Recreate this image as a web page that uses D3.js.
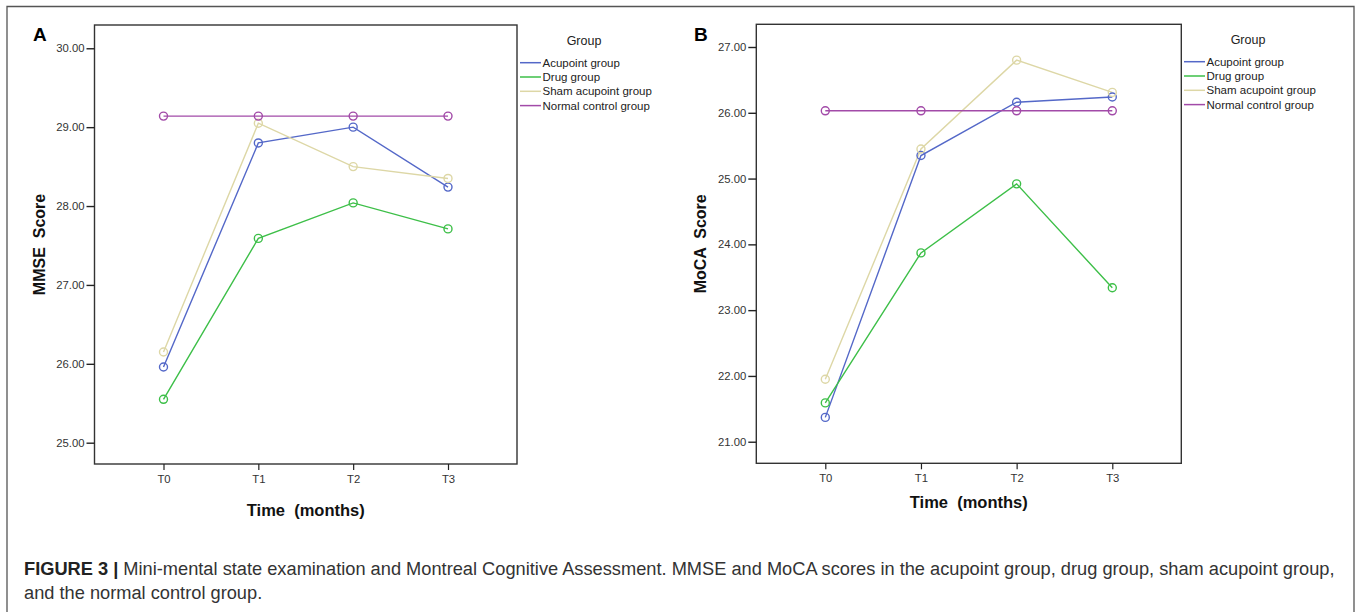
<!DOCTYPE html>
<html><head><meta charset="utf-8">
<script src="https://cdn.jsdelivr.net/npm/d3@7"></script>
<style>body{margin:0;background:#fff;} svg{display:block;}</style>
</head><body>
<svg id="c" width="1357" height="612"></svg>
<script>
const timepoints = ["T0","T1","T2","T3"];
const groups = ["Acupoint group","Drug group","Sham acupoint group","Normal control group"];
const groupColors = ["#5468c8","#3dbf48","#ddd7a6","#a24aa8"];
// Panel A: MMSE
const mmseAcupoint = [25.96, 28.80, 29.00, 28.24];
const mmseDrug     = [25.55, 27.59, 28.04, 27.71];
const mmseSham     = [26.15, 29.05, 28.50, 28.35];
const mmseNormal   = [29.14, 29.14, 29.14, 29.14];
const mmseTicks = [25, 26, 27, 28, 29, 30];
// Panel B: MoCA
const mocaAcupoint = [21.37, 25.35, 26.16, 26.24];
const mocaDrug     = [21.59, 23.87, 24.92, 23.34];
const mocaSham     = [21.95, 25.45, 26.80, 26.31];
const mocaNormal   = [26.03, 26.03, 26.03, 26.03];
const mocaTicks = [21, 22, 23, 24, 25, 26, 27];

const captionBold = "FIGURE 3 |";
const captionLine1 = " Mini-mental state examination and Montreal Cognitive Assessment. MMSE and MoCA scores in the acupoint group, drug group, sham acupoint group,";
const captionLine2 = "and the normal control group.";

const svg = d3.select("#c");
const FONT = "'Liberation Sans', Arial, sans-serif";

// outer frame
svg.append("path").attr("d","M7,640 L7,6.5 L1354,6.5 L1354,640")
  .attr("fill","none").attr("stroke","#555").attr("stroke-width",1.3);

function panel(cfg){
  const g = svg.append("g");
  const x = d3.scalePoint().domain(timepoints).range([cfg.x0+69, cfg.x1-69]);
  const y = d3.scaleLinear().domain(cfg.ydom).range([cfg.y1, cfg.y0]);
  // box
  g.append("rect").attr("x",cfg.x0).attr("y",cfg.y0).attr("width",cfg.x1-cfg.x0).attr("height",cfg.y1-cfg.y0)
    .attr("fill","none").attr("stroke","#333").attr("stroke-width",1.4);
  // y axis
  const ya = g.append("g").attr("transform",`translate(${cfg.x0},0)`)
    .call(d3.axisLeft(y).tickValues(cfg.ticks).tickFormat(d3.format(".2f")).tickSize(8).tickPadding(2));
  ya.select(".domain").remove();
  ya.selectAll("line").attr("stroke","#222").attr("stroke-width",1.4);
  ya.selectAll("text").attr("font-family",FONT).attr("font-size",11.3).attr("fill","#333");
  // x axis
  const xa = g.append("g").attr("transform",`translate(0,${cfg.y1})`)
    .call(d3.axisBottom(x).tickSize(6).tickPadding(5));
  xa.select(".domain").remove();
  xa.selectAll("line").attr("stroke","#222").attr("stroke-width",1.2);
  xa.selectAll("text").attr("font-family",FONT).attr("font-size",11.3).attr("fill","#333");
  // titles
  g.append("text").attr("x",(cfg.x0+cfg.x1)/2).attr("y",cfg.xtitleY).attr("text-anchor","middle")
    .attr("font-family",FONT).attr("font-weight","bold").attr("font-size",16.5).attr("fill","#111")
    .attr("xml:space","preserve").style("white-space","pre").text("Time  (months)");
  g.append("text").attr("transform",`translate(${cfg.ytitleX},${(cfg.y0+cfg.y1)/2}) rotate(-90)`)
    .attr("text-anchor","middle").attr("font-family",FONT).attr("font-weight","bold").attr("font-size",16)
    .attr("fill","#111").style("white-space","pre").text(cfg.ytitle);
  // panel letter
  g.append("text").attr("x",cfg.letterX).attr("y",40.5).attr("font-family",FONT).attr("font-weight","bold")
    .attr("font-size",19).attr("fill","#000").text(cfg.letter);
  // series
  const line = d3.line().x((d,i)=>x(timepoints[i])).y(d=>y(d));
  cfg.series.forEach((s,k)=>{
    g.append("path").datum(s).attr("d",line).attr("fill","none").attr("stroke",groupColors[k]).attr("stroke-width",1.4);
  });
  cfg.series.forEach((s,k)=>{
    g.selectAll(null).data(s).enter().append("circle")
      .attr("cx",(d,i)=>x(timepoints[i])).attr("cy",d=>y(d)).attr("r",4)
      .attr("fill","none").attr("stroke",groupColors[k]).attr("stroke-width",1.4);
  });
  // legend
  const lg = g.append("g");
  lg.append("text").attr("x",cfg.legX+64).attr("y",cfg.legY0-17.5).attr("text-anchor","middle")
    .attr("font-family",FONT).attr("font-size",12.5).attr("fill","#222").text("Group");
  groups.forEach((name,k)=>{
    const yy = cfg.legY0 + k*14.3;
    lg.append("line").attr("x1",cfg.legX).attr("x2",cfg.legX+21).attr("y1",yy).attr("y2",yy)
      .attr("stroke",groupColors[k]).attr("stroke-width",1.5);
    lg.append("text").attr("x",cfg.legX+22.5).attr("y",yy+4).attr("font-family",FONT).attr("font-size",11.5)
      .attr("fill","#222").text(name);
  });
}

panel({x0:94.5, x1:517, y0:25, y1:464, ydom:[24.73, 30.295], ticks:mmseTicks,
  series:[mmseAcupoint, mmseDrug, mmseSham, mmseNormal], ytitle:"MMSE  Score", ytitleX:45,
  xtitleY:516, letter:"A", letterX:33, legX:520, legY0:62.7});
panel({x0:756.3, x1:1181.3, y0:24.3, y1:463.3, ydom:[20.672, 27.345], ticks:mocaTicks,
  series:[mocaAcupoint, mocaDrug, mocaSham, mocaNormal], ytitle:"MoCA  Score", ytitleX:706,
  xtitleY:508, letter:"B", letterX:694, legX:1184, legY0:61.7});

// caption
const cap = svg.append("text").attr("x",24).attr("y",575).attr("font-family",FONT).attr("font-size",16).attr("fill","#333");
cap.append("tspan").attr("font-weight","bold").attr("fill","#222").text(captionBold);
cap.append("tspan").style("white-space","pre").text(captionLine1);
const w = cap.node().getComputedTextLength();
const fs = 16*1311/w;
cap.attr("font-size",fs);
svg.append("text").attr("x",24).attr("y",599).attr("font-family",FONT).attr("font-size",fs).attr("fill","#333").text(captionLine2);
</script>
</body></html>
